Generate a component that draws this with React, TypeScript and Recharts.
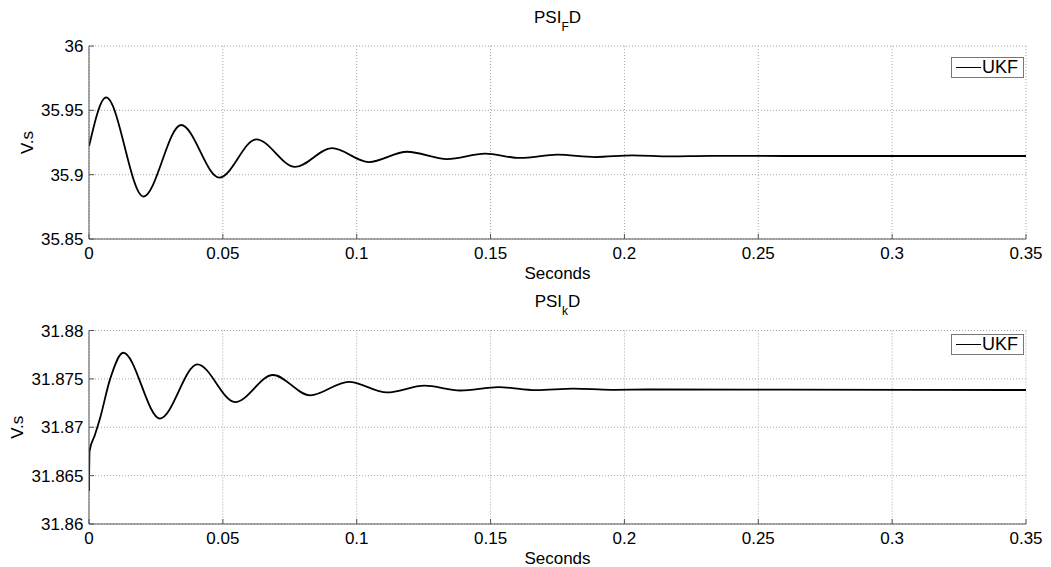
import React from "react";
import { LineChart, Line, XAxis, YAxis, CartesianGrid, Legend } from "recharts";

const FONT = '"Liberation Sans", Arial, Helvetica, sans-serif';

// shared time axis
const xTicks = [0, 0.05, 0.1, 0.15, 0.2, 0.25, 0.3, 0.35];

// PSI_F D (upper panel)
const psiFTime = [
  0, 0.0064, 0.0203, 0.0344, 0.0487, 0.0625, 0.077, 0.0908, 0.1045, 0.1188,
  0.1338, 0.148, 0.161, 0.175, 0.189, 0.203, 0.217, 0.232, 0.26, 0.3, 0.35,
];
const psiFValue = [
  35.922, 35.960, 35.883, 35.9386, 35.8977, 35.9275, 35.906, 35.9206, 35.9098,
  35.9178, 35.9121, 35.9163, 35.913, 35.9155, 35.9137, 35.915, 35.9142,
  35.9146, 35.9145, 35.9145, 35.9145,
];
const psiFTicks = [35.85, 35.9, 35.95, 36];

// PSI_k D (lower panel)
const psiKTime = [
  0, 0.0002, 0.0022, 0.0041, 0.0079, 0.0128, 0.0265, 0.0405, 0.0546, 0.0687,
  0.0826, 0.097, 0.1113, 0.1253, 0.1387, 0.153, 0.167, 0.181, 0.195, 0.21,
  0.26, 0.35,
];
const psiKValue = [
  31.8634, 31.8675, 31.8692, 31.8709, 31.875, 31.8777, 31.8709, 31.8765,
  31.8726, 31.8754, 31.8733, 31.8747, 31.8736, 31.8743, 31.8738, 31.87415,
  31.87384, 31.874, 31.87387, 31.8739, 31.87388, 31.87385,
];
const psiKTicks = [31.86, 31.865, 31.87, 31.875, 31.88];

const zip = (ts: number[], vs: number[]) => ts.map((t, i) => ({ t, v: vs[i] }));

const YLabel = (props: any) => {
  const { viewBox, x0 } = props;
  const cy = viewBox.y + viewBox.height / 2;
  return (
    <text
      x={x0}
      y={cy}
      transform={`rotate(-90, ${x0}, ${cy})`}
      textAnchor="middle"
      dominantBaseline="central"
      fill="#000"
      fontSize={17}
      fontFamily={FONT}
    >
      V.s
    </text>
  );
};

const LegendBox = () => (
  <div
    style={{
      display: "flex",
      alignItems: "center",
      boxSizing: "border-box",
      width: 73,
      height: 21,
      border: "1px solid #777",
      background: "#fff",
      fontFamily: FONT,
      fontSize: 18,
      color: "#000",
      paddingLeft: 4,
    }}
  >
    <span style={{ display: "inline-block", width: 25, height: 0, borderTop: "1.5px solid #000", marginRight: 1 }} />
    <span>UKF</span>
  </div>
);

interface PanelProps {
  data: { t: number; v: number }[];
  yTicks: number[];
  height: number;
  margin: { top: number; right: number; bottom: number; left: number };
  sub: string;
  titleTop: number;
  legendTop: number;
  yLabelX: number;
  top: number;
}

function Panel({ data, yTicks, height, margin, sub, titleTop, legendTop, yLabelX, top }: PanelProps) {
  const yDomain = [yTicks[0], yTicks[yTicks.length - 1]];
  const axisColor = "#555";
  return (
    <div style={{ position: "absolute", left: 0, top, width: 1051, height }}>
      {/* title centred over the plot box */}
      <div
        style={{
          position: "absolute",
          top: titleTop,
          left: 89,
          width: 1026 - 89,
          textAlign: "center",
          fontFamily: FONT,
          fontSize: 17,
          color: "#000",
          lineHeight: "20px",
        }}
      >
        PSI
        <span style={{ fontSize: 12, position: "relative", top: 8 }}>{sub}</span>D
      </div>
      <LineChart width={1051} height={height} data={data} margin={margin}>
        <CartesianGrid stroke="#a8a8a8" strokeDasharray="1 2" strokeWidth={1} />
        <XAxis
          dataKey="t"
          type="number"
          domain={[0, 0.35]}
          ticks={xTicks}
          interval={0}
          allowDataOverflow
          height={40}
          stroke={axisColor}
          tickSize={-5}
          tickMargin={13}
          tick={{ fill: "#000", fontSize: 17, fontFamily: FONT }}
          label={{ value: "Seconds", position: "insideBottom", offset: 0, fill: "#000", fontSize: 17, fontFamily: FONT }}
        />
        <XAxis
          xAxisId="top"
          orientation="top"
          type="number"
          domain={[0, 0.35]}
          ticks={xTicks}
          interval={0}
          height={0}
          stroke={axisColor}
          tickSize={-5}
          tick={false}
        />
        <YAxis
          type="number"
          domain={yDomain}
          ticks={yTicks}
          interval={0}
          allowDataOverflow
          width={60}
          stroke={axisColor}
          tickSize={-5}
          tickMargin={10.5}
          tick={{ fill: "#000", fontSize: 17, fontFamily: FONT }}
          label={<YLabel x0={yLabelX} />}
        />
        <YAxis
          yAxisId="right"
          orientation="right"
          type="number"
          domain={yDomain}
          ticks={yTicks}
          interval={0}
          width={0}
          stroke={axisColor}
          tickSize={-5}
          tick={false}
        />
        <Legend
          layout="vertical"
          align="center"
          verticalAlign="middle"
          wrapperStyle={{ top: legendTop, right: 27, left: "auto", width: "auto" }}
          content={() => <LegendBox />}
        />
        <Line
          type="monotone"
          dataKey="v"
          name="UKF"
          stroke="#000"
          strokeWidth={1.8}
          dot={false}
          activeDot={false}
          isAnimationActive={false}
        />
      </LineChart>
    </div>
  );
}

export default function App() {
  return (
    <div style={{ position: "absolute", left: 0, top: 0, width: 1051, height: 567, background: "#fff" }}>
      <Panel
        data={zip(psiFTime, psiFValue)}
        yTicks={psiFTicks}
        height={283}
        margin={{ top: 46, right: 25, bottom: 4, left: 29 }}
        sub="F"
        titleTop={8}
        legendTop={57}
        yLabelX={27}
        top={0}
      />
      <Panel
        data={zip(psiKTime, psiKValue)}
        yTicks={psiKTicks}
        height={284}
        margin={{ top: 47.5, right: 25, bottom: 3, left: 29 }}
        sub="k"
        titleTop={9}
        legendTop={51}
        yLabelX={17}
        top={283}
      />
    </div>
  );
}
